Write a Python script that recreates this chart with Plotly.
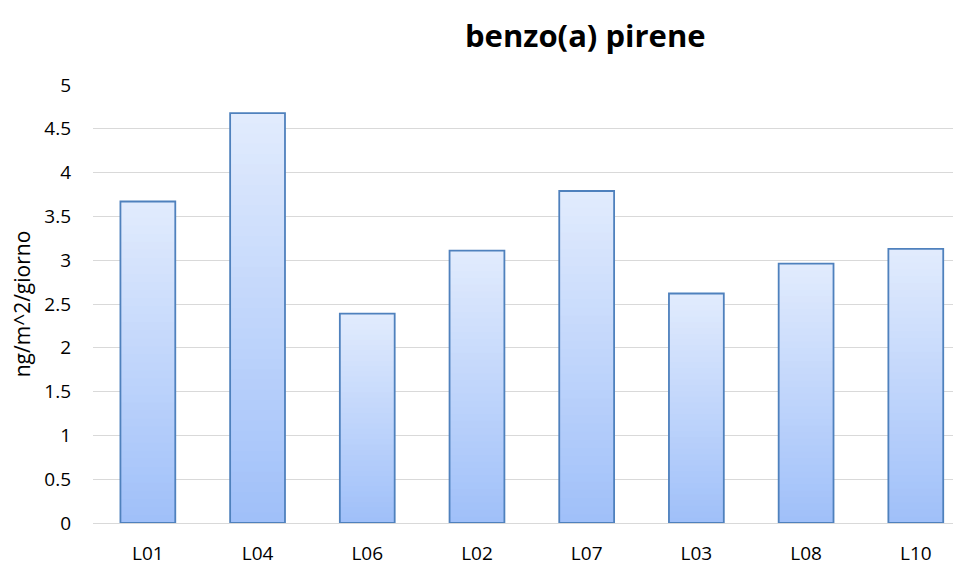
import plotly.graph_objects as go

categories = ["L01", "L04", "L06", "L02", "L07", "L03", "L08", "L10"]
values = [3.67, 4.68, 2.39, 3.11, 3.79, 2.62, 2.96, 3.13]
y_ticks = [0, 0.5, 1, 1.5, 2, 2.5, 3, 3.5, 4, 4.5, 5]
y_tick_labels = ["0", "0.5", "1", "1.5", "2", "2.5", "3", "3.5", "4", "4.5", "5"]
title_text = "benzo(a) pirene"
y_title = "ng/m^2/giorno"

top_rgb = (225, 235, 253)
bot_rgb = (160, 192, 249)
N = 40

fig = go.Figure()
for k in range(N):
    frac = (N - k) / N
    t = k / (N - 1)
    c = tuple(round(top_rgb[i] + (bot_rgb[i] - top_rgb[i]) * t) for i in range(3))
    fig.add_trace(go.Bar(
        x=categories, y=[v * frac for v in values],
        marker=dict(color=f"rgb{c}", line=dict(width=0)),
        hoverinfo="skip", showlegend=False,
    ))
fig.add_trace(go.Bar(
    x=categories, y=values,
    marker=dict(color="rgba(0,0,0,0)", line=dict(color="#4f81bd", width=1.8)),
    showlegend=False,
))

font = "Open Sans, Lato, sans-serif"
fig.update_layout(
    width=953, height=558,
    margin=dict(l=85, r=0, t=76.5, b=33),
    barmode="overlay", bargap=0.5,
    plot_bgcolor="white", paper_bgcolor="white",
    font=dict(family=font, size=16, color="#000000"),
    annotations=[dict(
        text="<b>" + title_text + "</b>", x=(585 - 93) / 868, y=(525 - 34) / 440.5,
        xref="paper", yref="paper",
        showarrow=False, font=dict(size=31, color="#000000", family=font),
        xanchor="center", yanchor="middle",
    )],
)
fig.update_xaxes(
    range=[-0.5, 7.412], showgrid=False, showline=True, linecolor="#d9d9d9", linewidth=1.4,
    ticks="", ticklabelstandoff=13, tickfont=dict(size=19, color="#000000"), fixedrange=True,
)
fig.update_yaxes(
    range=[0, 5], tickvals=y_ticks, ticktext=y_tick_labels, showgrid=True,
    gridcolor="#d9d9d9", gridwidth=1.4, zeroline=False, ticks="",
    ticklabelstandoff=21, tickfont=dict(size=19, color="#000000"),
    title=dict(text=y_title, font=dict(size=21, color="#000000"), standoff=9),
)
fig.write_html("out.html")
